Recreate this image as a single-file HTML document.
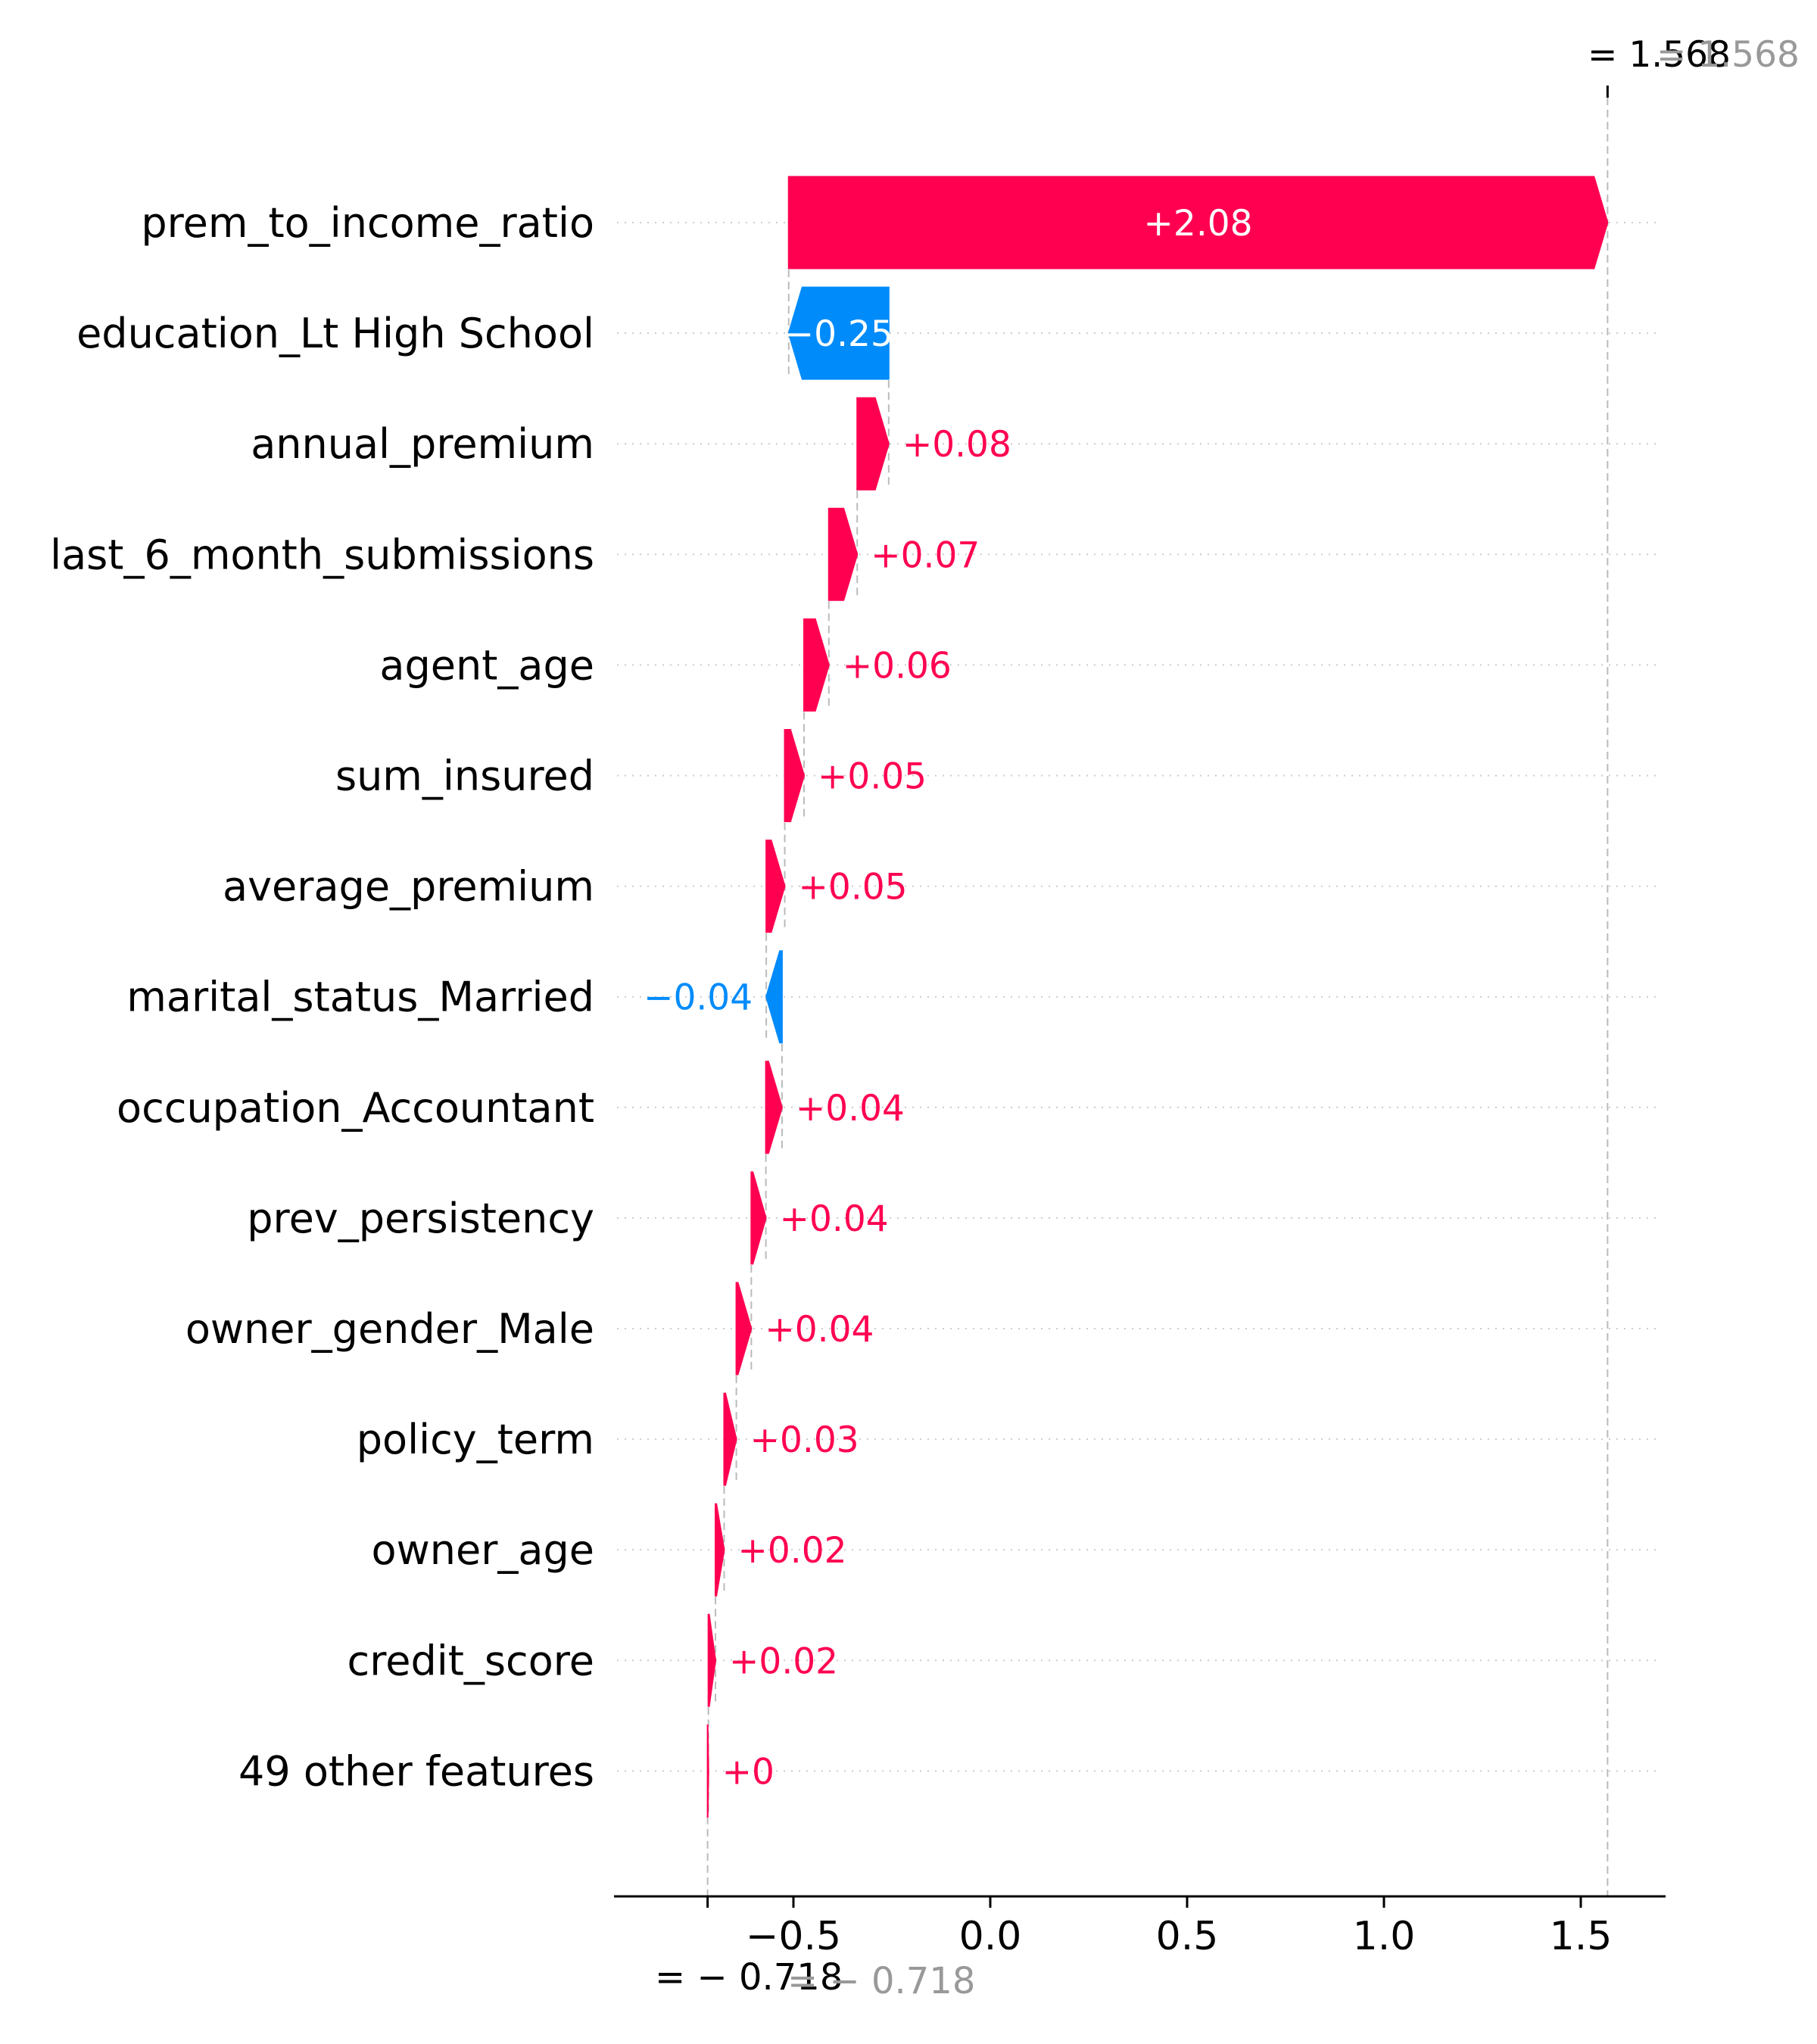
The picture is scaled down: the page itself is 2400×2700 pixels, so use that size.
<!DOCTYPE html>
<html><head><meta charset="utf-8">
<style>
html,body{margin:0;padding:0;background:#fff;}
svg{display:block;font-family:"DejaVu Sans","Liberation Sans",sans-serif;}
</style></head>
<body>
<svg id="chart" width="2400" height="2700" viewBox="0 0 2400 2700" xmlns="http://www.w3.org/2000/svg">
<rect width="2400" height="2700" fill="#fff"/>
</svg>
<script>
const features = ["prem_to_income_ratio","education_Lt High School","annual_premium","last_6_month_submissions","agent_age","sum_insured","average_premium","marital_status_Married","occupation_Accountant","prev_persistency","owner_gender_Male","policy_term","owner_age","credit_score","49 other features"];
const shapValues = [2.08,-0.254,0.08,0.072,0.063,0.049,0.047,-0.04,0.041,0.037,0.038,0.031,0.022,0.018,0.002];
const valueLabels = ["+2.08","\u22120.25","+0.08","+0.07","+0.06","+0.05","+0.05","\u22120.04","+0.04","+0.04","+0.04","+0.03","+0.02","+0.02","+0"];
const baseValue = -0.718;
const finalValue = 1.568;
const xTicks = [-0.5,0.0,0.5,1.0,1.5];
const xTickLabels = ["\u22120.5","0.0","0.5","1.0","1.5"];

const svg = document.getElementById('chart');
const NS = "http://www.w3.org/2000/svg";
const X0 = 1308, U = 520;
function xs(v){ return X0 + v*U; }
const ROW0 = 294, RS = 146.1, BH = 121;
function ys(i){ return ROW0 + i*RS; }
const RED = "#ff0051", BLUE = "#008bfb";
function mk(tag, attrs, parent){
  const e = document.createElementNS(NS, tag);
  for (const k in attrs) e.setAttribute(k, attrs[k]);
  (parent||svg).appendChild(e);
  return e;
}

features.forEach((f,i)=>{
  const g = mk('line',{x1:815,x2:2188,y1:ys(i),y2:ys(i),stroke:"#cccccc","stroke-width":2,"stroke-dasharray":"2,8"});
  
  
  const t = mk('text',{x:785,y:ys(i)+19,"text-anchor":"end","font-size":54,fill:"#000"});
  t.textContent = f;
  
  
});

const n = features.length;
const starts = new Array(n), ends = new Array(n);
let cum = baseValue;
for (let i=n-1;i>=0;i--){ starts[i]=cum; cum += shapValues[i]; ends[i]=cum; }

const bl = mk('line',{x1:xs(baseValue),x2:xs(baseValue),y1:ys(n-1)+BH/2,y2:2505,stroke:"#bbbbbb","stroke-width":2,"stroke-dasharray":"10,6"});


const fl = mk('line',{x1:xs(finalValue),x2:xs(finalValue),y1:129,y2:2505,stroke:"#bbbbbb","stroke-width":2,"stroke-dasharray":"10,6"});



for (let i=0;i<n;i++){
  const v = shapValues[i];
  const a = xs(starts[i]), b = xs(ends[i]);
  const w = Math.abs(b-a);
  const hl = Math.min(w*0.9, 18);
  const dir = v>=0?1:-1;
  const yc = ys(i), yt = yc-BH/2, yb = yc+BH/2;
  const neck = b - dir*hl;
  const pts = [[a,yt],[neck,yt],[b,yc],[neck,yb],[a,yb]].map(p=>p.join(',')).join(' ');
  if (i>0){
    const c = mk('line',{x1:b,x2:b,y1:yc-84,y2:yc+56,stroke:"#bbbbbb","stroke-width":2,"stroke-dasharray":"10,6"});
    
    
  }
  const col = v>=0?RED:BLUE;
  const p = mk('polygon',{points:pts,fill:col,stroke:col,"stroke-width":2,"stroke-linejoin":"miter"});
  
  
  const t = mk('text',{"font-size":47,y:yc+17});
  if (Math.abs(v) > 0.2){
    t.setAttribute('x',(a+b)/2); t.setAttribute('text-anchor','middle'); t.setAttribute('fill','#fff');
  } else if (v>=0){
    t.setAttribute('x',b+18); t.setAttribute('text-anchor','start'); t.setAttribute('fill',RED);
  } else {
    t.setAttribute('x',b-18); t.setAttribute('text-anchor','end'); t.setAttribute('fill',BLUE);
  }
  t.textContent = valueLabels[i];
  
  
}

const ax = mk('line',{x1:811,x2:2200,y1:2505,y2:2505,stroke:"#000","stroke-width":3});


xTicks.forEach((v,k)=>{
  const tk = mk('line',{x1:xs(v),x2:xs(v),y1:2505,y2:2520,stroke:"#000","stroke-width":3});
  
  
  const tl = mk('text',{x:xs(v),y:2575,"text-anchor":"middle","font-size":52,fill:"#000"});
  tl.textContent = xTickLabels[k];
  
  
});
const btk = mk('line',{x1:xs(baseValue),x2:xs(baseValue),y1:2505,y2:2520,stroke:"#000","stroke-width":3});


const ftk = mk('line',{x1:xs(finalValue),x2:xs(finalValue),y1:113,y2:129,stroke:"#000","stroke-width":3});



const e1 = mk('text',{x:865,y:2628,"font-size":48,fill:"#000","xml:space":"preserve"});
e1.textContent = "= \u2212 0.718";


const e2 = mk('text',{x:1040,y:2633,"font-size":48,fill:"#999999","xml:space":"preserve"});
e2.textContent = "= \u2212 0.718";


const f1 = mk('text',{x:2097,y:88,"font-size":47,fill:"#000","xml:space":"preserve"});
f1.textContent = "= 1.568";


const f2 = mk('text',{x:2188,y:88,"font-size":47,fill:"#999999","xml:space":"preserve"});
f2.textContent = "= 1.568";


</script>
</body></html>
